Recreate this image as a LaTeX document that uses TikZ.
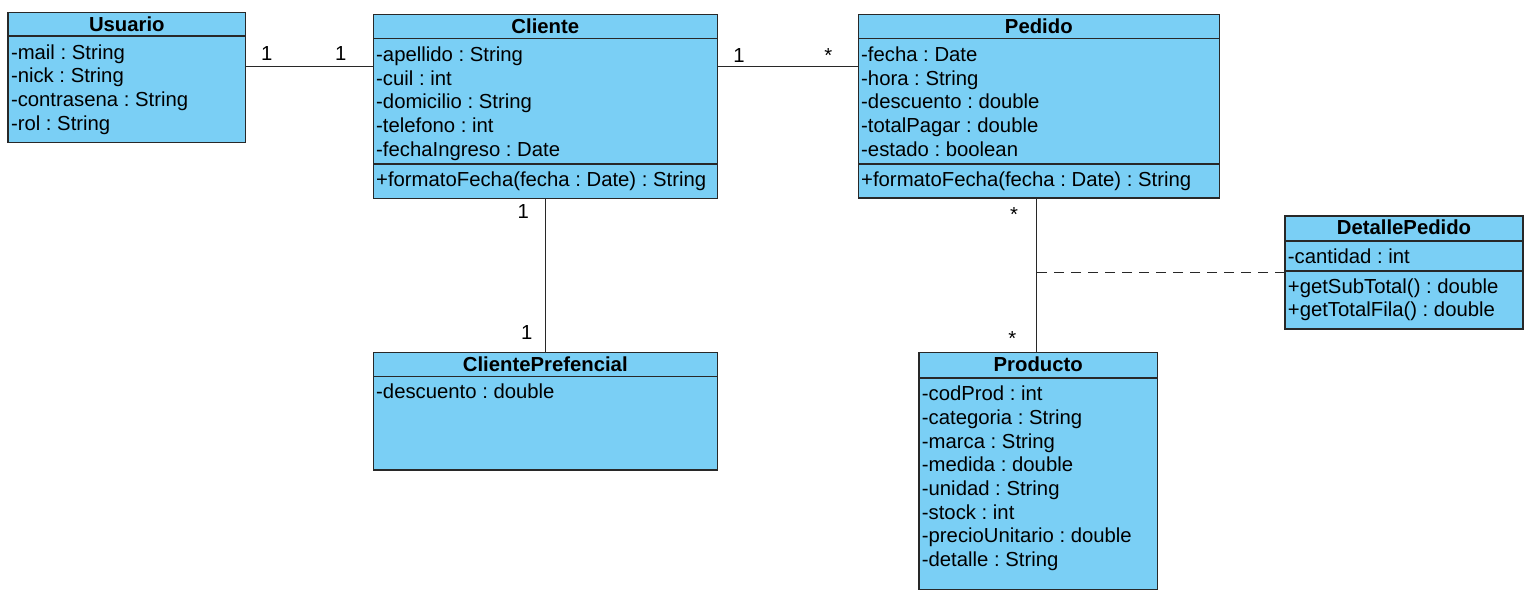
\documentclass[tikz,border=0pt]{standalone}
\usepackage{fontspec}
\setmainfont{Liberation Sans}
\definecolor{umlblue}{RGB}{122,207,245}
\definecolor{umlline}{RGB}{40,40,40}
\frenchspacing
\begin{document}
\frenchspacing
\begin{tikzpicture}[x=1pt,y=-1pt,
  cls/.style={draw=umlline, fill=umlblue, line width=1.4pt, inner sep=0pt, outer sep=0pt, anchor=north west},
  sepline/.style={draw=umlline, line width=1.4pt},
  txt/.style={anchor=base west, inner sep=0pt, font=\fontsize{20.3}{24}\selectfont},
  ttl/.style={anchor=base, inner sep=0pt, font=\fontsize{20.3}{24}\selectfont\bfseries},
  mult/.style={anchor=base, inner sep=0pt, font=\fontsize{20.3}{24}\selectfont},
  assoc/.style={draw=umlline, line width=1.3pt},
  assocdash/.style={draw=umlline, line width=1.3pt, dash pattern=on 10pt off 7pt}
]
\useasboundingbox (0,0) rectangle (1531,601);

% ---------- Usuario ----------
\node[cls, minimum width=237.5pt, minimum height=130pt] (usuario) at (8,12.5) {};
\draw[sepline] (usuario.west |- 0,36) -- (usuario.east |- 0,36);
\node[ttl] (usuarioT) at (126.8,31.7) {Usuario};
\foreach \t/\y [count=\i] in {{-mail : String}/59.3,{-nick : String}/83,{-contrasena : String}/106.7,{-rol : String}/130.3}
  \node[txt] (u\i) at (10.8,\y) {\t};

% ---------- Cliente ----------
\node[cls, minimum width=344pt, minimum height=184pt] (cliente) at (373.3,14.7) {};
\draw[sepline] (cliente.west |- 0,38.5) -- (cliente.east |- 0,38.5);
\draw[sepline] (cliente.west |- 0,164) -- (cliente.east |- 0,164);
\node[ttl] (clienteT) at (545.3,33.3) {Cliente};
\foreach \t/\y [count=\i] in {{-apellido : String}/61.7,{-cuil : int}/85.3,{-domicilio : String}/109,{-telefono : int}/132.7,{-fechaIngreso : Date}/156.3}
  \node[txt] (c\i) at (376,\y) {\t};
\node[txt] (cM) at (376,186.7) {+formatoFecha(fecha : Date) : String};

% ---------- Pedido ----------
\node[cls, minimum width=361pt, minimum height=183.5pt] (pedido) at (858.3,14.7) {};
\draw[sepline] (pedido.west |- 0,38.5) -- (pedido.east |- 0,38.5);
\draw[sepline] (pedido.west |- 0,164) -- (pedido.east |- 0,164);
\node[ttl] (pedidoT) at (1038.8,33.3) {Pedido};
\foreach \t/\y [count=\i] in {{-fecha : Date}/61.7,{-hora : String}/85.3,{-descuento : double}/109,{-totalPagar : double}/132.7,{-estado : boolean}/156.3}
  \node[txt] (p\i) at (861,\y) {\t};
\node[txt] (pM) at (861,186.7) {+formatoFecha(fecha : Date) : String};

% ---------- DetallePedido ----------
\node[cls, minimum width=238pt, minimum height=113pt] (detalle) at (1285,216) {};
\draw[sepline] (detalle.west |- 0,241) -- (detalle.east |- 0,241);
\draw[sepline] (detalle.west |- 0,271) -- (detalle.east |- 0,271);
\node[ttl] (detalleT) at (1404,235) {DetallePedido};
\node[txt] (d1) at (1287.7,263.3) {-cantidad : int};
\node[txt] (d2) at (1287.7,293.3) {+getSubTotal() : double};
\node[txt] (d3) at (1287.7,316.7) {+getTotalFila() : double};

% ---------- ClientePrefencial ----------
\node[cls, minimum width=344pt, minimum height=117.7pt] (cpref) at (373.3,352.3) {};
\draw[sepline] (cpref.west |- 0,376.5) -- (cpref.east |- 0,376.5);
\node[ttl] (cprefT) at (545.3,371.7) {ClientePrefencial};
\node[txt] (cp1) at (376,398.3) {-descuento : double};

% ---------- Producto ----------
\node[cls, minimum width=238.3pt, minimum height=237pt] (producto) at (919,352.3) {};
\draw[sepline] (producto.west |- 0,378) -- (producto.east |- 0,378);
\node[ttl] (productoT) at (1038.2,371.7) {Producto};
\foreach \t/\y [count=\i] in {{-codProd : int}/400.7,{-categoria : String}/424.3,{-marca : String}/448,{-medida : double}/471.7,{-unidad : String}/495.3,{-stock : int}/519,{-precioUnitario : double}/542.7,{-detalle : String}/566.3}
  \node[txt] (pr\i) at (921.7,\y) {\t};

% ---------- Connectors ----------
\coordinate (row1) at (0,66.5);
\coordinate (vx) at (1036.5,0);
\draw[assoc] (usuario.east |- row1) -- (cliente.west |- row1);
\draw[assoc] (cliente.east |- row1) -- (pedido.west |- row1);
\draw[assoc] (cliente.south) -- (cpref.north);
\draw[assoc] (pedido.south -| vx) -- (producto.north -| vx);
\draw[assocdash] (detalle.west) -- (detalle.west -| vx);

% ---------- Multiplicities ----------
\node[mult] (m1) at (266.7,61) {1};
\node[mult] (m2) at (340.7,61) {1};
\node[mult] (m3) at (739,62.3) {1};
\node[mult] (m4) at (828.3,63) {*};
\node[mult] (m5) at (523.3,218.3) {1};
\node[mult] (m6) at (526.7,340) {1};
\node[mult] (m7) at (1014,221.5) {*};
\node[mult] (m8) at (1012.3,345.8) {*};
\end{tikzpicture}
\end{document}
